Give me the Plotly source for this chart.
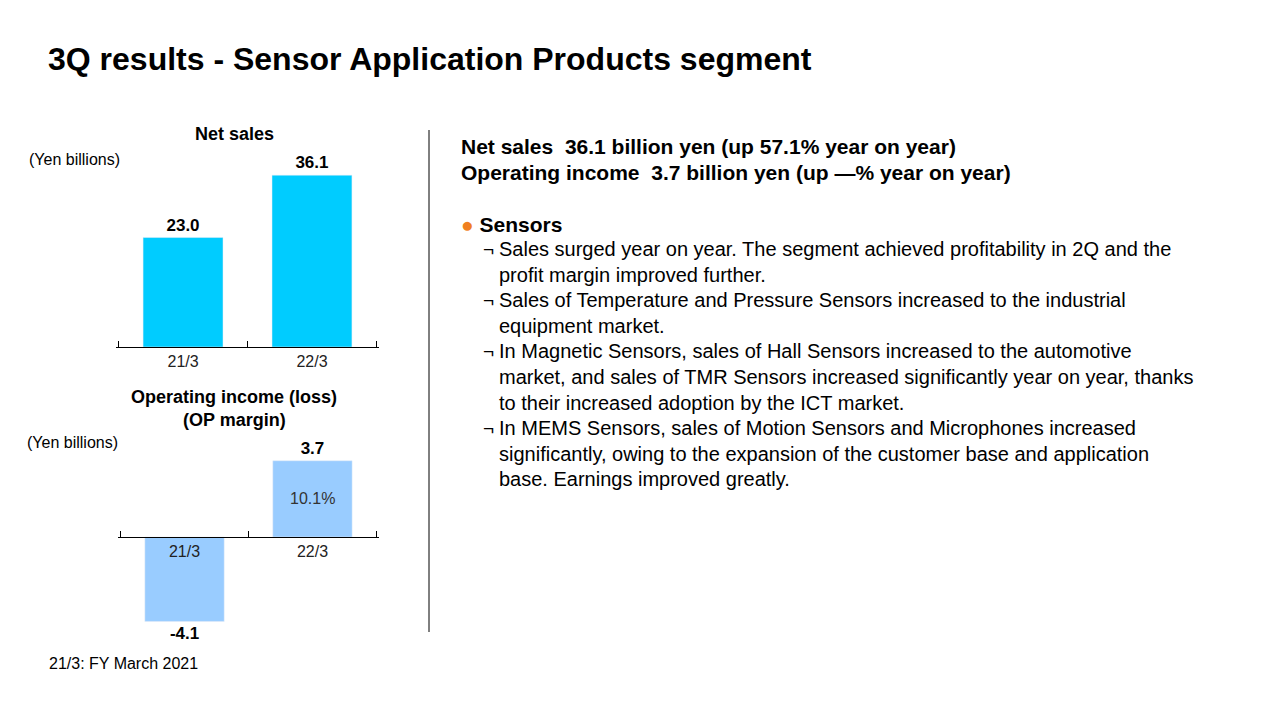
import plotly.graph_objects as go

# data
years = ['21/3', '22/3']
net_sales = [23.0, 36.1]
op_income = [-4.1, 3.7]
op_margin = ['', '10.1%']

W, H = 1281, 720
def px(x):
    return x / W
def py(y):
    return 1 - y / H

fig = go.Figure()

fig.add_trace(go.Bar(x=years, y=net_sales, marker_color='#00CCFF', width=0.62,
                     text=[f'<b>{v:.1f}</b>' for v in net_sales], textposition='outside',
                     textfont=dict(size=17, color='black'),
                     cliponaxis=False, xaxis='x', yaxis='y'))
fig.add_trace(go.Bar(x=years, y=op_income, marker_color='#99CCFF', width=0.62,
                     text=[f'<b>{v:.1f}</b>' for v in op_income], textposition='outside',
                     textfont=dict(size=17, color='black'),
                     cliponaxis=False, xaxis='x2', yaxis='y2'))

for yr, v, m in zip(years, op_income, op_margin):
    if m:
        fig.add_annotation(x=yr, y=v / 2, xref='x2', yref='y2', text=m, showarrow=False,
                           font=dict(size=16, color='#333333'))

xr = [-0.52, 1.52]
cat_axis = dict(showline=True, linecolor='black', linewidth=1, ticks='', showgrid=False,
                range=xr, tickfont=dict(size=16, color='#222222'), fixedrange=True)
# overlay axes only for the category boundary ticks
tick_axis = dict(type='linear', range=xr, tickmode='array', tickvals=[-0.5, 0.5, 1.5],
                 showticklabels=False, ticks='inside', ticklen=6, tickcolor='black',
                 showgrid=False, zeroline=False, showline=False, fixedrange=True)
fig.update_layout(
    width=W, height=H, margin=dict(l=0, r=0, t=0, b=0),
    paper_bgcolor='white', plot_bgcolor='white', showlegend=False,
    font=dict(family='Liberation Sans', color='black'),
    xaxis=dict(domain=[px(116), px(379)], anchor='y', **cat_axis),
    yaxis=dict(domain=[py(347), py(156.6)], range=[0, 40], visible=False),
    xaxis2=dict(domain=[px(118), px(379)], anchor='free', position=py(537), **cat_axis),
    yaxis2=dict(domain=[py(640), py(434)], range=[-5, 5], visible=False),
    xaxis3=dict(overlaying='x', anchor='y', **tick_axis),
    xaxis4=dict(overlaying='x2', anchor='free', position=py(537), **tick_axis),
)
# invisible traces so the tick axes get drawn
fig.add_trace(go.Scatter(x=[-0.5, 1.5], y=[0, 0], mode='none', hoverinfo='skip', xaxis='x3', yaxis='y'))
fig.add_trace(go.Scatter(x=[-0.5, 1.5], y=[0, 0], mode='none', hoverinfo='skip', xaxis='x4', yaxis='y2'))

def txt(x, y, s, size=16, bold=False, color='black', anchor='left'):
    if bold:
        s = f'<b>{s}</b>'
    fig.add_annotation(x=px(x), y=py(y), xref='paper', yref='paper', text=s, showarrow=False,
                       xanchor=anchor, yanchor='middle', font=dict(size=size, color=color))

txt(46, 59, '3Q results - Sensor Application Products segment', size=32, bold=True)
txt(234, 134, 'Net sales', size=18, bold=True, anchor='center')
txt(27, 159, '(Yen billions)', size=16)
txt(234, 397, 'Operating income (loss)', size=18, bold=True, anchor='center')
txt(234, 420, '(OP margin)', size=18, bold=True, anchor='center')
txt(25, 442, '(Yen billions)', size=16)
txt(47, 663, '21/3: FY March 2021', size=16)

txt(459, 147, 'Net sales  36.1 billion yen (up 57.1% year on year)', size=21, bold=True)
txt(459, 172, 'Operating income  3.7 billion yen (up —% year on year)', size=21, bold=True)
txt(459, 224, '<span style="color:#F08020">●</span> <b>Sensors</b>', size=21)

bullets = [
    ['Sales surged year on year. The segment achieved profitability in 2Q and the',
     'profit margin improved further.'],
    ['Sales of Temperature and Pressure Sensors increased to the industrial',
     'equipment market.'],
    ['In Magnetic Sensors, sales of Hall Sensors increased to the automotive',
     'market, and sales of TMR Sensors increased significantly year on year, thanks',
     'to their increased adoption by the ICT market.'],
    ['In MEMS Sensors, sales of Motion Sensors and Microphones increased',
     'significantly, owing to the expansion of the customer base and application',
     'base. Earnings improved greatly.'],
]
y = 249
for b in bullets:
    txt(481, y, '¬', size=19)
    for line in b:
        txt(497, y, line, size=20)
        y += 25.6

fig.add_shape(type='line', xref='paper', yref='paper', x0=px(429), x1=px(429),
              y0=py(130), y1=py(632), line=dict(color='black', width=1))

fig.write_html('out.html', config={'displayModeBar': False},
               post_script="document.body.style.margin='0';")
